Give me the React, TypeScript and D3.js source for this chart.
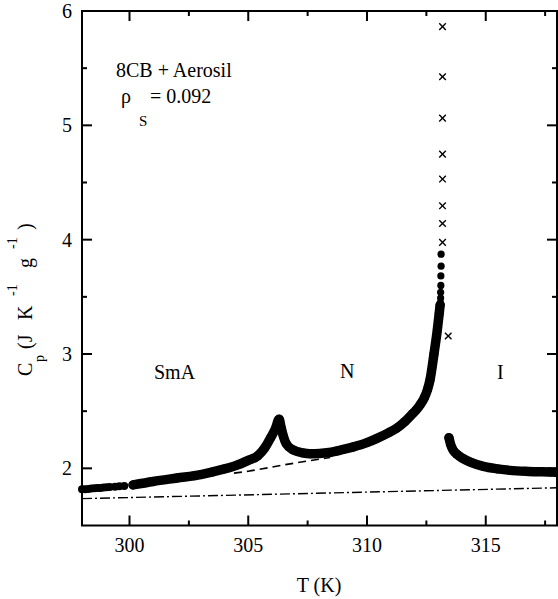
import React from 'react';
import * as d3 from 'd3';

const W = 558;
const H = 599;

// ---- data ----
// sparse low-T data points (SmA)
const sparseT = [298.0, 298.13, 298.26, 298.39, 298.52, 298.65, 298.78, 298.91, 299.04, 299.17, 299.39, 299.57, 299.78];
const sparseC = [1.816, 1.818, 1.82, 1.823, 1.825, 1.827, 1.829, 1.832, 1.834, 1.836, 1.84, 1.843, 1.846];

// dense branch SmA + N
const nT = [300.15, 301.0, 302.0, 303.0, 303.5, 304.0, 304.5, 305.0, 305.4, 305.7, 305.95, 306.15, 306.3, 306.38, 306.48, 306.6, 306.9, 307.3, 307.6, 308.0, 308.4, 309.0, 309.4, 310.0, 310.4, 310.9, 311.24, 311.6, 311.93, 312.07, 312.25, 312.42, 312.55, 312.65, 312.82, 312.96, 313.04, 313.08];
const nC = [1.855, 1.885, 1.915, 1.945, 1.968, 1.995, 2.026, 2.07, 2.11, 2.18, 2.27, 2.35, 2.43, 2.36, 2.28, 2.215, 2.16, 2.135, 2.128, 2.13, 2.138, 2.165, 2.186, 2.225, 2.26, 2.31, 2.35, 2.41, 2.48, 2.51, 2.56, 2.62, 2.69, 2.77, 3.0, 3.21, 3.354, 3.43];

// separate top points near Tc
const topT = [313.09, 313.1, 313.1, 313.11, 313.11, 313.12, 313.12];
const topC = [3.45, 3.49, 3.54, 3.6, 3.683, 3.768, 3.873];

// crosses
const crossT = [313.18, 313.18, 313.18, 313.18, 313.18, 313.18, 313.18, 313.18, 313.42];
const crossC = [3.976, 4.142, 4.296, 4.53, 4.748, 5.063, 5.425, 5.863, 3.158];

// isotropic branch
const iT = [313.45, 313.52, 313.63, 313.8, 314.05, 314.4, 314.9, 315.5, 316.02, 316.8, 317.7, 318.0];
const iC = [2.268, 2.21, 2.158, 2.12, 2.085, 2.05, 2.017, 1.995, 1.982, 1.973, 1.968, 1.966];

// dashed background
const dashT = [304.4, 305.0, 306.5, 308.45];
const dashC = [1.958, 1.975, 2.03, 2.095];

// dash-dot baseline
const dashDotT = [298, 318];
const dashDotC = [1.735, 1.83];

const xMajor = [300, 305, 310, 315];
const xMinor = [302.5, 307.5, 312.5, 317.5];
const yMajor = [2, 3, 4, 5, 6];
const yMinor = [2.5, 3.5, 4.5, 5.5];

const L = 82, R = 557, T = 11, B = 525.5;
const FONT = 'Liberation Serif, Times New Roman, serif';

export default function App() {
  const x = d3.scaleLinear().domain([298, 318]).range([L, R]);
  const y = d3.scaleLinear().domain([1.5, 6]).range([B, T]);

  const line = d3.line<[number, number]>()
    .x(d => x(d[0]))
    .y(d => y(d[1]))
    .curve(d3.curveMonotoneX);
  const straight = d3.line<[number, number]>()
    .x(d => x(d[0]))
    .y(d => y(d[1]));

  const zip = (a: number[], b: number[]) => a.map((v, i) => [v, b[i]] as [number, number]);
  const nPts = zip(nT, nC);
  const iPts = zip(iT, iC);

  const bandW = 9.5;

  return (
    <svg width={W} height={H} style={{ position: 'absolute', left: 0, top: 0, background: '#fff', fontFamily: FONT }}>
      <rect x={0} y={0} width={W} height={H} fill="#fff" />
      {/* reference lines */}
      <path d={straight(zip(dashDotT, dashDotC)) || ''} fill="none" stroke="#000" strokeWidth={1.4} strokeDasharray="10,3,2,3" />
      <path d={line(zip(dashT, dashC)) || ''} fill="none" stroke="#000" strokeWidth={1.6} strokeDasharray="8,5" />

      {/* data band */}
      <path d={line(nPts) || ''} fill="none" stroke="#000" strokeWidth={bandW} strokeLinecap="round" strokeLinejoin="round" />
      <path d={line(iPts) || ''} fill="none" stroke="#000" strokeWidth={bandW} strokeLinecap="round" strokeLinejoin="round" />
      {nPts.map((d, i) => <circle key={'n' + i} cx={x(d[0])} cy={y(d[1])} r={4.5} fill="#000" />)}
      {iPts.map((d, i) => <circle key={'i' + i} cx={x(d[0])} cy={y(d[1])} r={4.5} fill="#000" />)}
      {sparseT.map((t, i) => <circle key={'s' + i} cx={x(t)} cy={y(sparseC[i])} r={4} fill="#000" />)}
      {topT.map((t, i) => <circle key={'t' + i} cx={x(t)} cy={y(topC[i])} r={3.6} fill="#000" />)}
      {crossT.map((t, i) => {
        const cx = x(t), cy = y(crossC[i]), s = 3.3;
        return (
          <g key={'c' + i} stroke="#000" strokeWidth={1.4}>
            <line x1={cx - s} y1={cy - s} x2={cx + s} y2={cy + s} />
            <line x1={cx - s} y1={cy + s} x2={cx + s} y2={cy - s} />
          </g>
        );
      })}

      {/* frame */}
      <rect x={L} y={T} width={R - L} height={B - T} fill="none" stroke="#000" strokeWidth={2} />
      {xMajor.map(v => (
        <g key={'xm' + v} stroke="#000" strokeWidth={2}>
          <line x1={x(v)} x2={x(v)} y1={B} y2={B - 10} />
          <line x1={x(v)} x2={x(v)} y1={T} y2={T + 10} />
        </g>
      ))}
      {xMinor.map(v => (
        <g key={'xn' + v} stroke="#000" strokeWidth={2}>
          <line x1={x(v)} x2={x(v)} y1={B} y2={B - 5} />
          <line x1={x(v)} x2={x(v)} y1={T} y2={T + 5} />
        </g>
      ))}
      {yMajor.map(v => (
        <g key={'ym' + v} stroke="#000" strokeWidth={2}>
          <line x1={L} x2={L + 10} y1={y(v)} y2={y(v)} />
          <line x1={R} x2={R - 10} y1={y(v)} y2={y(v)} />
        </g>
      ))}
      {yMinor.map(v => (
        <g key={'yn' + v} stroke="#000" strokeWidth={2}>
          <line x1={L} x2={L + 5} y1={y(v)} y2={y(v)} />
          <line x1={R} x2={R - 5} y1={y(v)} y2={y(v)} />
        </g>
      ))}

      {/* tick labels */}
      {xMajor.map(v => (
        <text key={'xl' + v} x={x(v)} y={552} fontSize={20} textAnchor="middle">{v}</text>
      ))}
      {yMajor.map(v => (
        <text key={'yl' + v} x={72} y={y(v) + 7} fontSize={20} textAnchor="end">{v}</text>
      ))}

      {/* axis titles */}
      <text x={319} y={592} fontSize={20} textAnchor="middle">T (K)</text>
      <g transform="translate(32,376) rotate(-90)" fontSize={20}>
        <text x={0} y={0}>C</text>
        <text x={14} y={12} fontSize={14}>p</text>
        <text x={27} y={0}>(J</text>
        <text x={56} y={0}>K</text>
        <text x={80} y={-15} fontSize={14}>-1</text>
        <text x={108} y={0}>g</text>
        <text x={127} y={-15} fontSize={14}>-1</text>
        <text x={146} y={0}>)</text>
      </g>

      {/* annotations */}
      <text x={116} y={77} fontSize={20}>8CB + Aerosil</text>
      <text x={121} y={103} fontSize={20}>ρ</text>
      <text x={139} y={126} fontSize={15}>S</text>
      <text x={150} y={103} fontSize={20}>= 0.092</text>

      <text x={154} y={379} fontSize={20}>SmA</text>
      <text x={340} y={378} fontSize={20}>N</text>
      <text x={497} y={379} fontSize={20}>I</text>
    </svg>
  );
}
